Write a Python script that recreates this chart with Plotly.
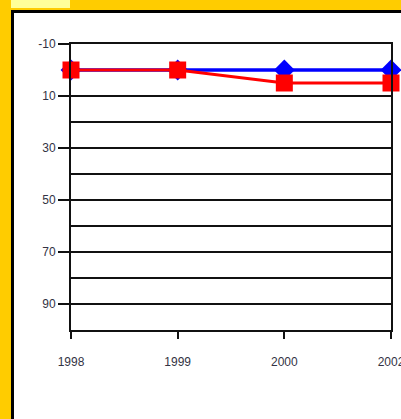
import plotly.graph_objects as go

# Data
years = ["1998", "1999", "2000", "2002"]
blue_values = [0, 0, 0, 0]
red_values = [0, 0, 5, 5]
y_tick_values = [-10, 10, 30, 50, 70, 90]
y_tick_labels = ["-10", "10", "30", "50", "70", "90"]

W, H = 401, 419
L, R, T, B = 71, 391, 44, 330  # plot area in pixels


def px(x):
    return (x - L) / (R - L)


def py(y):
    return (B - y) / (B - T)


fig = go.Figure()
fig.add_trace(go.Scatter(
    x=years, y=blue_values, mode="lines+markers",
    line=dict(color="#0000FF", width=3.5),
    marker=dict(symbol="diamond", size=16, color="#0000FF"),
    cliponaxis=False, showlegend=False,
))
fig.add_trace(go.Scatter(
    x=years, y=red_values, mode="lines+markers",
    line=dict(color="#FF0000", width=3),
    marker=dict(symbol="square", size=17, color="#FF0000"),
    cliponaxis=False, showlegend=False,
))

shapes = [
    # yellow frame
    dict(type="rect", x0=px(0), x1=px(W + 5), y0=py(0), y1=py(10), fillcolor="#FFCC00", line_width=0),
    dict(type="rect", x0=px(0), x1=px(11), y0=py(0), y1=py(H + 5), fillcolor="#FFCC00", line_width=0),
    dict(type="rect", x0=px(11), x1=px(70), y0=py(0), y1=py(8), fillcolor="#FFFF99", line_width=0),
    # black border
    dict(type="rect", x0=px(11), x1=px(W + 5), y0=py(10), y1=py(13), fillcolor="#000000", line_width=0),
    dict(type="rect", x0=px(11), x1=px(14), y0=py(10), y1=py(H + 5), fillcolor="#000000", line_width=0),
]
for s in shapes:
    s.update(xref="paper", yref="paper", layer="below")

tick_font = dict(family="Liberation Sans, Arial, sans-serif", size=12, color="#333344")

fig.update_layout(
    width=W, height=H,
    margin=dict(l=L, r=W - R, t=T, b=H - B, pad=0, autoexpand=False),
    paper_bgcolor="white",
    plot_bgcolor="rgba(0,0,0,0)",
    shapes=shapes,
    xaxis=dict(
        type="category", range=[0, 3], automargin=False,
        showgrid=False, zeroline=False,
        showline=True, linecolor="#111111", linewidth=2, mirror=True,
        ticks="outside", ticklen=7, tickwidth=2, tickcolor="#111111",
        tickfont=tick_font, ticklabelstandoff=13,
    ),
    yaxis=dict(
        range=[100, -10], automargin=False,
        tickvals=y_tick_values, ticktext=y_tick_labels,
        showgrid=True, gridcolor="#111111", gridwidth=2,
        zeroline=False,
        showline=True, linecolor="#111111", linewidth=2, mirror=True,
        ticks="outside", ticklen=11, tickwidth=2, tickcolor="#111111",
        tickfont=tick_font,
        minor=dict(dtick=10, tick0=-10, showgrid=True, gridcolor="#111111", gridwidth=2, ticks=""),
    ),
)

fig.write_html(
    "out.html",
    config={"displayModeBar": False},
    post_script="document.body.style.margin='0';document.body.style.overflow='hidden';",
)
